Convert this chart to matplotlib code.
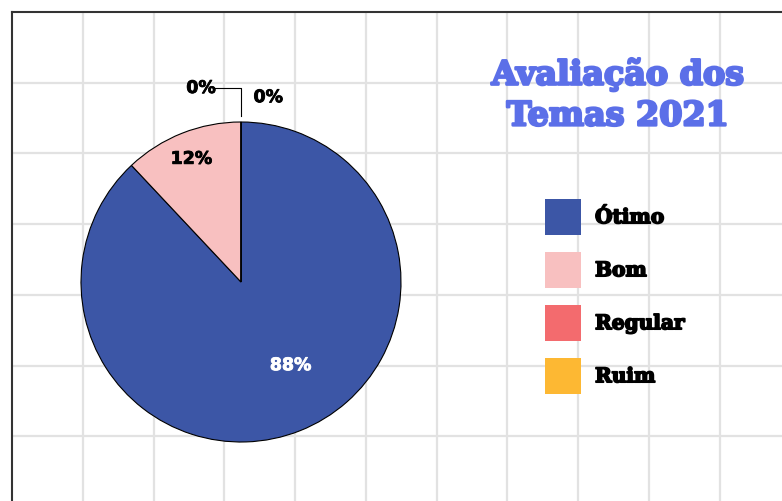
import matplotlib
matplotlib.use("Agg")
import matplotlib.pyplot as plt
import matplotlib.patches as mpatches
import matplotlib.patheffects as pe
import numpy as np

# data
categorias = ["Ótimo", "Bom", "Regular", "Ruim"]
valores = [88, 12, 0, 0]
cores = ["#3c56a6", "#f8c0c0", "#f36b6e", "#fdb833"]
titulo = "Avaliação dos\nTemas 2021"

W, H = 782, 501
fig = plt.figure(figsize=(W / 100, H / 100), dpi=100)

# background grid (pixel coords)
bg = fig.add_axes([12 / W, 0, 1 - 12 / W, 1 - 12 / H])
bg.set_xlim(12, W)
bg.set_ylim(H, 12)
step = 70.75
bg.set_xticks(np.arange(12 + step, W, step))
bg.set_yticks(np.arange(12 + step, H, step))
bg.grid(True, color="#e2e2e2", lw=1.6)
bg.tick_params(length=0, labelbottom=False, labelleft=False)
for s in ["right", "bottom"]:
    bg.spines[s].set_visible(False)
for s in ["left", "top"]:
    bg.spines[s].set_color("#333333")
    bg.spines[s].set_linewidth(1.5)

# pie
cx, cy, r = 241, 282, 160
ax = fig.add_axes([(cx - r) / W, (H - cy - r) / H, 2 * r / W, 2 * r / H])
wedges, _, autotexts = ax.pie(
    valores, colors=cores, startangle=90, counterclock=False,
    autopct="%1.0f%%", pctdistance=0.6,
    wedgeprops=dict(edgecolor="black", linewidth=0.8),
)
ax.set_xlim(-1, 1)
ax.set_ylim(-1, 1)

label_pos = [(0.31, -0.52), (-0.31, 0.77), (-0.25, 1.2125), (0.17, 1.155)]
label_col = ["white", "black", "black", "black"]
for t, pos, c in zip(autotexts, label_pos, label_col):
    t.set_position(pos)
    t.set_color(c)
    t.set_fontsize(12.5)
    t.set_fontweight("bold")
    t.set_family("DejaVu Sans")
    t.set_ha("center")
    t.set_va("center")
    t.set_clip_on(False)
    t.set_path_effects([pe.withStroke(linewidth=0.6, foreground=c)])

# leader line for the hidden 0% slice
ax.plot([-0.16, 0, 0], [1.2125, 1.2125, 1.04], color="black", lw=0.8, clip_on=False)

# title
fig.text(618 / W, 1 - 95 / H, titulo, ha="center", va="center",
         family="DejaVu Serif", fontweight="bold", fontsize=24,
         color="#5b6fe8", linespacing=1.3,
         path_effects=[pe.withStroke(linewidth=1.8, foreground="#5b6fe8")])

# legend
handles = [mpatches.Patch(facecolor=c, edgecolor="none") for c in cores]
fs = 14.5
fpx = fs * 100 / 72
hh = (36 / fpx - 0.245) / 0.65
leg = fig.legend(handles, categorias, loc="upper left",
                 bbox_to_anchor=(545 / W, 1 - 199 / H), frameon=False,
                 borderpad=0, borderaxespad=0,
                 handlelength=36 / fpx, handleheight=hh,
                 handletextpad=14 / fpx, labelspacing=17 / fpx,
                 prop=dict(family="DejaVu Serif", weight="bold", size=fs))
for t in leg.get_texts():
    t.set_path_effects([pe.withStroke(linewidth=1.2, foreground="black")])

fig.savefig("out.png", dpi=100)
